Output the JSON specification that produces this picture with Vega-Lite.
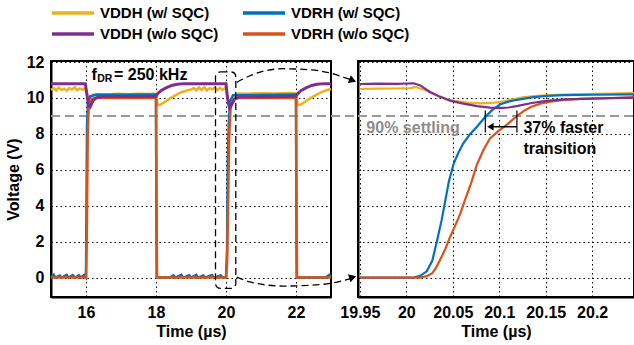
{
  "$schema": "https://vega.github.io/schema/vega-lite/v6.json",
  "padding": {"left": 4, "top": 3, "right": 0, "bottom": 4},
  "bounds": "flush",
  "spacing": 27,
  "datasets": {
    "left": [
      {"s": "VDDH (w/ SQC)", "t": 15.0, "v": 10.45}, {"s": "VDDH (w/ SQC)", "t": 15.08, "v": 10.55}, {"s": "VDDH (w/ SQC)", "t": 15.15, "v": 10.42}, {"s": "VDDH (w/ SQC)", "t": 15.22, "v": 10.58}, {"s": "VDDH (w/ SQC)", "t": 15.3, "v": 10.44}, {"s": "VDDH (w/ SQC)", "t": 15.38, "v": 10.52}, {"s": "VDDH (w/ SQC)", "t": 15.45, "v": 10.4}, {"s": "VDDH (w/ SQC)", "t": 15.52, "v": 10.55}, {"s": "VDDH (w/ SQC)", "t": 15.6, "v": 10.47}, {"s": "VDDH (w/ SQC)", "t": 15.68, "v": 10.6}, {"s": "VDDH (w/ SQC)", "t": 15.75, "v": 10.43}, {"s": "VDDH (w/ SQC)", "t": 15.82, "v": 10.53}, {"s": "VDDH (w/ SQC)", "t": 15.9, "v": 10.46}, {"s": "VDDH (w/ SQC)", "t": 15.97, "v": 10.55}, {"s": "VDDH (w/ SQC)", "t": 16.02, "v": 10.25}, {"s": "VDDH (w/ SQC)", "t": 16.06, "v": 9.95}, {"s": "VDDH (w/ SQC)", "t": 16.12, "v": 10.05}, {"s": "VDDH (w/ SQC)", "t": 16.2, "v": 10.18}, {"s": "VDDH (w/ SQC)", "t": 16.35, "v": 10.22}, {"s": "VDDH (w/ SQC)", "t": 16.6, "v": 10.2}, {"s": "VDDH (w/ SQC)", "t": 16.9, "v": 10.24}, {"s": "VDDH (w/ SQC)", "t": 17.2, "v": 10.21}, {"s": "VDDH (w/ SQC)", "t": 17.5, "v": 10.24}, {"s": "VDDH (w/ SQC)", "t": 17.8, "v": 10.22}, {"s": "VDDH (w/ SQC)", "t": 17.98, "v": 10.23}, {"s": "VDDH (w/ SQC)", "t": 18.02, "v": 9.85}, {"s": "VDDH (w/ SQC)", "t": 18.06, "v": 9.6}, {"s": "VDDH (w/ SQC)", "t": 18.12, "v": 9.62}, {"s": "VDDH (w/ SQC)", "t": 18.25, "v": 9.78}, {"s": "VDDH (w/ SQC)", "t": 18.4, "v": 9.98}, {"s": "VDDH (w/ SQC)", "t": 18.55, "v": 10.15}, {"s": "VDDH (w/ SQC)", "t": 18.7, "v": 10.3}, {"s": "VDDH (w/ SQC)", "t": 18.85, "v": 10.4}, {"s": "VDDH (w/ SQC)", "t": 19.0, "v": 10.47}, {"s": "VDDH (w/ SQC)", "t": 19.08, "v": 10.55}, {"s": "VDDH (w/ SQC)", "t": 19.15, "v": 10.43}, {"s": "VDDH (w/ SQC)", "t": 19.23, "v": 10.58}, {"s": "VDDH (w/ SQC)", "t": 19.3, "v": 10.45}, {"s": "VDDH (w/ SQC)", "t": 19.38, "v": 10.6}, {"s": "VDDH (w/ SQC)", "t": 19.45, "v": 10.42}, {"s": "VDDH (w/ SQC)", "t": 19.53, "v": 10.55}, {"s": "VDDH (w/ SQC)", "t": 19.6, "v": 10.48}, {"s": "VDDH (w/ SQC)", "t": 19.68, "v": 10.58}, {"s": "VDDH (w/ SQC)", "t": 19.75, "v": 10.44}, {"s": "VDDH (w/ SQC)", "t": 19.83, "v": 10.56}, {"s": "VDDH (w/ SQC)", "t": 19.9, "v": 10.45}, {"s": "VDDH (w/ SQC)", "t": 19.97, "v": 10.55}, {"s": "VDDH (w/ SQC)", "t": 20.01, "v": 10.6}, {"s": "VDDH (w/ SQC)", "t": 20.04, "v": 10.1}, {"s": "VDDH (w/ SQC)", "t": 20.08, "v": 9.72}, {"s": "VDDH (w/ SQC)", "t": 20.12, "v": 9.85}, {"s": "VDDH (w/ SQC)", "t": 20.2, "v": 10.1}, {"s": "VDDH (w/ SQC)", "t": 20.35, "v": 10.25}, {"s": "VDDH (w/ SQC)", "t": 20.6, "v": 10.24}, {"s": "VDDH (w/ SQC)", "t": 21.0, "v": 10.27}, {"s": "VDDH (w/ SQC)", "t": 21.4, "v": 10.25}, {"s": "VDDH (w/ SQC)", "t": 21.8, "v": 10.28}, {"s": "VDDH (w/ SQC)", "t": 21.98, "v": 10.27}, {"s": "VDDH (w/ SQC)", "t": 22.02, "v": 9.85}, {"s": "VDDH (w/ SQC)", "t": 22.06, "v": 9.6}, {"s": "VDDH (w/ SQC)", "t": 22.12, "v": 9.62}, {"s": "VDDH (w/ SQC)", "t": 22.25, "v": 9.78}, {"s": "VDDH (w/ SQC)", "t": 22.4, "v": 9.98}, {"s": "VDDH (w/ SQC)", "t": 22.55, "v": 10.15}, {"s": "VDDH (w/ SQC)", "t": 22.7, "v": 10.3}, {"s": "VDDH (w/ SQC)", "t": 22.85, "v": 10.42}, {"s": "VDDH (w/ SQC)", "t": 23.0, "v": 10.5},

      {"s": "VDRH (w/ SQC)", "t": 15.0, "v": 0}, {"s": "VDRH (w/ SQC)", "t": 15.08, "v": 0.15}, {"s": "VDRH (w/ SQC)", "t": 15.12, "v": 0}, {"s": "VDRH (w/ SQC)", "t": 15.25, "v": 0.12}, {"s": "VDRH (w/ SQC)", "t": 15.3, "v": 0}, {"s": "VDRH (w/ SQC)", "t": 15.45, "v": 0.15}, {"s": "VDRH (w/ SQC)", "t": 15.5, "v": 0}, {"s": "VDRH (w/ SQC)", "t": 15.62, "v": 0.14}, {"s": "VDRH (w/ SQC)", "t": 15.68, "v": 0}, {"s": "VDRH (w/ SQC)", "t": 15.8, "v": 0.12}, {"s": "VDRH (w/ SQC)", "t": 15.85, "v": 0}, {"s": "VDRH (w/ SQC)", "t": 15.95, "v": 0.15}, {"s": "VDRH (w/ SQC)", "t": 16.0, "v": 0.02}, {"s": "VDRH (w/ SQC)", "t": 16.01, "v": 3}, {"s": "VDRH (w/ SQC)", "t": 16.03, "v": 8.5}, {"s": "VDRH (w/ SQC)", "t": 16.06, "v": 9.8}, {"s": "VDRH (w/ SQC)", "t": 16.12, "v": 10.1}, {"s": "VDRH (w/ SQC)", "t": 16.3, "v": 10.18}, {"s": "VDRH (w/ SQC)", "t": 18.0, "v": 10.2}, {"s": "VDRH (w/ SQC)", "t": 18.01, "v": 4}, {"s": "VDRH (w/ SQC)", "t": 18.02, "v": 0}, {"s": "VDRH (w/ SQC)", "t": 18.4, "v": 0}, {"s": "VDRH (w/ SQC)", "t": 18.5, "v": 0.12}, {"s": "VDRH (w/ SQC)", "t": 18.55, "v": 0}, {"s": "VDRH (w/ SQC)", "t": 18.72, "v": 0.15}, {"s": "VDRH (w/ SQC)", "t": 18.78, "v": 0}, {"s": "VDRH (w/ SQC)", "t": 18.95, "v": 0.13}, {"s": "VDRH (w/ SQC)", "t": 19.0, "v": 0}, {"s": "VDRH (w/ SQC)", "t": 19.15, "v": 0.15}, {"s": "VDRH (w/ SQC)", "t": 19.2, "v": 0}, {"s": "VDRH (w/ SQC)", "t": 19.35, "v": 0.12}, {"s": "VDRH (w/ SQC)", "t": 19.4, "v": 0}, {"s": "VDRH (w/ SQC)", "t": 19.6, "v": 0.14}, {"s": "VDRH (w/ SQC)", "t": 19.65, "v": 0}, {"s": "VDRH (w/ SQC)", "t": 19.85, "v": 0.12}, {"s": "VDRH (w/ SQC)", "t": 19.9, "v": 0}, {"s": "VDRH (w/ SQC)", "t": 20.0, "v": 0}, {"s": "VDRH (w/ SQC)", "t": 20.03, "v": 1.5}, {"s": "VDRH (w/ SQC)", "t": 20.05, "v": 6.3}, {"s": "VDRH (w/ SQC)", "t": 20.08, "v": 8.6}, {"s": "VDRH (w/ SQC)", "t": 20.12, "v": 9.8}, {"s": "VDRH (w/ SQC)", "t": 20.2, "v": 10.15}, {"s": "VDRH (w/ SQC)", "t": 22.0, "v": 10.2}, {"s": "VDRH (w/ SQC)", "t": 22.01, "v": 4}, {"s": "VDRH (w/ SQC)", "t": 22.02, "v": 0}, {"s": "VDRH (w/ SQC)", "t": 22.85, "v": 0}, {"s": "VDRH (w/ SQC)", "t": 22.95, "v": 0.15}, {"s": "VDRH (w/ SQC)", "t": 23.0, "v": 0.05},

      {"s": "VDRH (w/o SQC)", "t": 15.0, "v": 0}, {"s": "VDRH (w/o SQC)", "t": 16.0, "v": 0}, {"s": "VDRH (w/o SQC)", "t": 16.02, "v": 2}, {"s": "VDRH (w/o SQC)", "t": 16.05, "v": 8}, {"s": "VDRH (w/o SQC)", "t": 16.08, "v": 9.6}, {"s": "VDRH (w/o SQC)", "t": 16.15, "v": 9.95}, {"s": "VDRH (w/o SQC)", "t": 16.3, "v": 10.0}, {"s": "VDRH (w/o SQC)", "t": 18.0, "v": 10.02}, {"s": "VDRH (w/o SQC)", "t": 18.01, "v": 5}, {"s": "VDRH (w/o SQC)", "t": 18.03, "v": 0}, {"s": "VDRH (w/o SQC)", "t": 20.0, "v": 0}, {"s": "VDRH (w/o SQC)", "t": 20.03, "v": 0.8}, {"s": "VDRH (w/o SQC)", "t": 20.06, "v": 4}, {"s": "VDRH (w/o SQC)", "t": 20.09, "v": 7.8}, {"s": "VDRH (w/o SQC)", "t": 20.13, "v": 9.4}, {"s": "VDRH (w/o SQC)", "t": 20.2, "v": 9.9}, {"s": "VDRH (w/o SQC)", "t": 20.3, "v": 10.0}, {"s": "VDRH (w/o SQC)", "t": 22.0, "v": 10.02}, {"s": "VDRH (w/o SQC)", "t": 22.01, "v": 5}, {"s": "VDRH (w/o SQC)", "t": 22.03, "v": 0}, {"s": "VDRH (w/o SQC)", "t": 23.0, "v": 0},

      {"s": "VDDH (w/o SQC)", "t": 15.0, "v": 10.8}, {"s": "VDDH (w/o SQC)", "t": 15.98, "v": 10.8}, {"s": "VDDH (w/o SQC)", "t": 16.02, "v": 10.3}, {"s": "VDDH (w/o SQC)", "t": 16.07, "v": 9.6}, {"s": "VDDH (w/o SQC)", "t": 16.12, "v": 9.5}, {"s": "VDDH (w/o SQC)", "t": 16.2, "v": 9.85}, {"s": "VDDH (w/o SQC)", "t": 16.3, "v": 10.02}, {"s": "VDDH (w/o SQC)", "t": 16.5, "v": 10.08}, {"s": "VDDH (w/o SQC)", "t": 18.0, "v": 10.1}, {"s": "VDDH (w/o SQC)", "t": 18.05, "v": 10.25}, {"s": "VDDH (w/o SQC)", "t": 18.15, "v": 10.42}, {"s": "VDDH (w/o SQC)", "t": 18.3, "v": 10.58}, {"s": "VDDH (w/o SQC)", "t": 18.45, "v": 10.7}, {"s": "VDDH (w/o SQC)", "t": 18.6, "v": 10.76}, {"s": "VDDH (w/o SQC)", "t": 18.8, "v": 10.8}, {"s": "VDDH (w/o SQC)", "t": 20.0, "v": 10.8}, {"s": "VDDH (w/o SQC)", "t": 20.03, "v": 10.2}, {"s": "VDDH (w/o SQC)", "t": 20.06, "v": 9.8}, {"s": "VDDH (w/o SQC)", "t": 20.1, "v": 9.45}, {"s": "VDDH (w/o SQC)", "t": 20.15, "v": 9.6}, {"s": "VDDH (w/o SQC)", "t": 20.25, "v": 9.95}, {"s": "VDDH (w/o SQC)", "t": 20.4, "v": 10.05}, {"s": "VDDH (w/o SQC)", "t": 22.0, "v": 10.1}, {"s": "VDDH (w/o SQC)", "t": 22.05, "v": 10.25}, {"s": "VDDH (w/o SQC)", "t": 22.15, "v": 10.42}, {"s": "VDDH (w/o SQC)", "t": 22.3, "v": 10.58}, {"s": "VDDH (w/o SQC)", "t": 22.45, "v": 10.7}, {"s": "VDDH (w/o SQC)", "t": 22.6, "v": 10.76}, {"s": "VDDH (w/o SQC)", "t": 22.8, "v": 10.8}, {"s": "VDDH (w/o SQC)", "t": 23.0, "v": 10.8}
    ],
    "right": [
      {"s": "VDDH (w/ SQC)", "t": 19.95, "v": 10.5}, {"s": "VDDH (w/ SQC)", "t": 19.97, "v": 10.52}, {"s": "VDDH (w/ SQC)", "t": 19.99, "v": 10.53}, {"s": "VDDH (w/ SQC)", "t": 20.005, "v": 10.55}, {"s": "VDDH (w/ SQC)", "t": 20.01, "v": 10.62}, {"s": "VDDH (w/ SQC)", "t": 20.02, "v": 10.45}, {"s": "VDDH (w/ SQC)", "t": 20.035, "v": 10.1}, {"s": "VDDH (w/ SQC)", "t": 20.05, "v": 9.85}, {"s": "VDDH (w/ SQC)", "t": 20.065, "v": 9.74}, {"s": "VDDH (w/ SQC)", "t": 20.08, "v": 9.7}, {"s": "VDDH (w/ SQC)", "t": 20.095, "v": 9.74}, {"s": "VDDH (w/ SQC)", "t": 20.105, "v": 9.82}, {"s": "VDDH (w/ SQC)", "t": 20.115, "v": 9.93}, {"s": "VDDH (w/ SQC)", "t": 20.125, "v": 10.03}, {"s": "VDDH (w/ SQC)", "t": 20.14, "v": 10.12}, {"s": "VDDH (w/ SQC)", "t": 20.16, "v": 10.18}, {"s": "VDDH (w/ SQC)", "t": 20.19, "v": 10.22}, {"s": "VDDH (w/ SQC)", "t": 20.22, "v": 10.25}, {"s": "VDDH (w/ SQC)", "t": 20.245, "v": 10.27},

      {"s": "VDRH (w/ SQC)", "t": 19.95, "v": 0}, {"s": "VDRH (w/ SQC)", "t": 20.008, "v": 0}, {"s": "VDRH (w/ SQC)", "t": 20.015, "v": 0.1}, {"s": "VDRH (w/ SQC)", "t": 20.022, "v": 0.35}, {"s": "VDRH (w/ SQC)", "t": 20.028, "v": 0.95}, {"s": "VDRH (w/ SQC)", "t": 20.033, "v": 2.05}, {"s": "VDRH (w/ SQC)", "t": 20.038, "v": 3.2}, {"s": "VDRH (w/ SQC)", "t": 20.042, "v": 4.3}, {"s": "VDRH (w/ SQC)", "t": 20.046, "v": 5.4}, {"s": "VDRH (w/ SQC)", "t": 20.051, "v": 6.35}, {"s": "VDRH (w/ SQC)", "t": 20.056, "v": 6.95}, {"s": "VDRH (w/ SQC)", "t": 20.061, "v": 7.45}, {"s": "VDRH (w/ SQC)", "t": 20.068, "v": 7.95}, {"s": "VDRH (w/ SQC)", "t": 20.076, "v": 8.4}, {"s": "VDRH (w/ SQC)", "t": 20.085, "v": 8.95}, {"s": "VDRH (w/ SQC)", "t": 20.093, "v": 9.35}, {"s": "VDRH (w/ SQC)", "t": 20.101, "v": 9.65}, {"s": "VDRH (w/ SQC)", "t": 20.11, "v": 9.8}, {"s": "VDRH (w/ SQC)", "t": 20.119, "v": 9.9}, {"s": "VDRH (w/ SQC)", "t": 20.135, "v": 10.03}, {"s": "VDRH (w/ SQC)", "t": 20.151, "v": 10.12}, {"s": "VDRH (w/ SQC)", "t": 20.17, "v": 10.16}, {"s": "VDRH (w/ SQC)", "t": 20.2, "v": 10.18}, {"s": "VDRH (w/ SQC)", "t": 20.245, "v": 10.2},

      {"s": "VDRH (w/o SQC)", "t": 19.95, "v": 0}, {"s": "VDRH (w/o SQC)", "t": 20.015, "v": 0}, {"s": "VDRH (w/o SQC)", "t": 20.022, "v": 0.08}, {"s": "VDRH (w/o SQC)", "t": 20.028, "v": 0.25}, {"s": "VDRH (w/o SQC)", "t": 20.032, "v": 0.55}, {"s": "VDRH (w/o SQC)", "t": 20.036, "v": 0.95}, {"s": "VDRH (w/o SQC)", "t": 20.042, "v": 1.6}, {"s": "VDRH (w/o SQC)", "t": 20.047, "v": 2.25}, {"s": "VDRH (w/o SQC)", "t": 20.053, "v": 2.95}, {"s": "VDRH (w/o SQC)", "t": 20.058, "v": 3.55}, {"s": "VDRH (w/o SQC)", "t": 20.063, "v": 4.3}, {"s": "VDRH (w/o SQC)", "t": 20.07, "v": 5.3}, {"s": "VDRH (w/o SQC)", "t": 20.076, "v": 6.3}, {"s": "VDRH (w/o SQC)", "t": 20.083, "v": 7.1}, {"s": "VDRH (w/o SQC)", "t": 20.09, "v": 7.75}, {"s": "VDRH (w/o SQC)", "t": 20.1, "v": 8.2}, {"s": "VDRH (w/o SQC)", "t": 20.108, "v": 8.5}, {"s": "VDRH (w/o SQC)", "t": 20.119, "v": 9.0}, {"s": "VDRH (w/o SQC)", "t": 20.127, "v": 9.3}, {"s": "VDRH (w/o SQC)", "t": 20.134, "v": 9.5}, {"s": "VDRH (w/o SQC)", "t": 20.145, "v": 9.7}, {"s": "VDRH (w/o SQC)", "t": 20.155, "v": 9.8}, {"s": "VDRH (w/o SQC)", "t": 20.17, "v": 9.9}, {"s": "VDRH (w/o SQC)", "t": 20.187, "v": 9.95}, {"s": "VDRH (w/o SQC)", "t": 20.22, "v": 10.0}, {"s": "VDRH (w/o SQC)", "t": 20.245, "v": 10.03},

      {"s": "VDDH (w/o SQC)", "t": 19.95, "v": 10.78}, {"s": "VDDH (w/o SQC)", "t": 19.97, "v": 10.8}, {"s": "VDDH (w/o SQC)", "t": 19.99, "v": 10.79}, {"s": "VDDH (w/o SQC)", "t": 20.008, "v": 10.82}, {"s": "VDDH (w/o SQC)", "t": 20.015, "v": 10.7}, {"s": "VDDH (w/o SQC)", "t": 20.025, "v": 10.35}, {"s": "VDDH (w/o SQC)", "t": 20.035, "v": 10.1}, {"s": "VDDH (w/o SQC)", "t": 20.047, "v": 9.85}, {"s": "VDDH (w/o SQC)", "t": 20.06, "v": 9.7}, {"s": "VDDH (w/o SQC)", "t": 20.076, "v": 9.55}, {"s": "VDDH (w/o SQC)", "t": 20.09, "v": 9.46}, {"s": "VDDH (w/o SQC)", "t": 20.1, "v": 9.44}, {"s": "VDDH (w/o SQC)", "t": 20.11, "v": 9.47}, {"s": "VDDH (w/o SQC)", "t": 20.12, "v": 9.56}, {"s": "VDDH (w/o SQC)", "t": 20.135, "v": 9.72}, {"s": "VDDH (w/o SQC)", "t": 20.15, "v": 9.84}, {"s": "VDDH (w/o SQC)", "t": 20.17, "v": 9.92}, {"s": "VDDH (w/o SQC)", "t": 20.2, "v": 9.97}, {"s": "VDDH (w/o SQC)", "t": 20.245, "v": 10.02}
    ]
  },
  "hconcat": [
    {
      "width": 280,
      "height": 236,
      "data": {"name": "left"},
      "encoding": {
        "x": {"field": "t", "type": "quantitative", "scale": {"domain": [15, 23], "nice": false, "zero": false}, "axis": {"values": [16, 18, 20, 22], "title": "Time (µs)"}},
        "y": {"field": "v", "type": "quantitative", "scale": {"domain": [-1.08, 12.06], "nice": false, "zero": false}, "axis": {"values": [0, 2, 4, 6, 8, 10, 12], "title": "Voltage (V)"}}
      },
      "layer": [
        {"data": {"values": [{"t": 15, "t2": 23.77, "v": 9}]}, "mark": {"type": "rule", "color": "#9a9a9a", "strokeDash": [9, 5], "strokeWidth": 2, "clip": false}, "encoding": {"x2": {"field": "t2"}}},
        {"transform": [{"filter": "datum.s === 'VDDH (w/ SQC)'"}], "mark": {"type": "line", "strokeWidth": 2.5}, "encoding": {"color": {"field": "s", "type": "nominal", "title": null, "scale": {"domain": ["VDDH (w/ SQC)", "VDRH (w/ SQC)", "VDDH (w/o SQC)", "VDRH (w/o SQC)"], "range": ["#EDB120", "#0072BD", "#7E2F8E", "#D95319"]}}}},
        {"transform": [{"filter": "datum.s === 'VDRH (w/ SQC)'"}], "mark": {"type": "line", "strokeWidth": 2.5}, "encoding": {"color": {"field": "s", "type": "nominal", "title": null}}},
        {"transform": [{"filter": "datum.s === 'VDRH (w/o SQC)'"}], "mark": {"type": "line", "strokeWidth": 2.5}, "encoding": {"color": {"field": "s", "type": "nominal", "title": null}}},
        {"transform": [{"filter": "datum.s === 'VDDH (w/o SQC)'"}], "mark": {"type": "line", "strokeWidth": 3}, "encoding": {"color": {"field": "s", "type": "nominal", "title": null}}},
        {"data": {"values": [{"t": 19.7, "t2": 20.28, "v": -0.6, "v2": 11.45}]}, "mark": {"type": "rect", "fill": "transparent", "stroke": "black", "strokeDash": [7, 4], "strokeWidth": 1.3, "cornerRadius": 5}, "encoding": {"x2": {"field": "t2"}, "y2": {"field": "v2"}}},
        {"data": {"values": [
          {"c": "top", "t": 20.306, "v": 10.87}, {"c": "top", "t": 20.686, "v": 11.24}, {"c": "top", "t": 21.629, "v": 11.63}, {"c": "top", "t": 22.4, "v": 11.57}, {"c": "top", "t": 23.057, "v": 11.35}, {"c": "top", "t": 23.457, "v": 11.09}, {"c": "top", "t": 23.6, "v": 11.0},
          {"c": "bot", "t": 20.306, "v": 0.03}, {"c": "bot", "t": 20.686, "v": -0.24}, {"c": "bot", "t": 21.629, "v": -0.47}, {"c": "bot", "t": 22.4, "v": -0.43}, {"c": "bot", "t": 23.257, "v": -0.21}, {"c": "bot", "t": 23.6, "v": -0.02}
        ]}, "mark": {"type": "line", "color": "black", "strokeDash": [7, 4], "strokeWidth": 1.3, "clip": false, "interpolate": "monotone"}, "encoding": {"detail": {"field": "c"}}},
        {"data": {"values": [{"t": 23.62, "v": 10.98, "a": 22}, {"t": 23.62, "v": 0.02, "a": -17}]}, "mark": {"type": "point", "shape": "triangle-right", "filled": true, "color": "black", "opacity": 1, "size": 70, "clip": false}, "encoding": {"angle": {"field": "a", "type": "quantitative", "scale": null}}},
        {"data": {"values": [{"t": 16.16, "v": 11.3, "txt": "f"}]}, "mark": {"type": "text", "align": "left", "baseline": "middle", "fontSize": 16, "fontWeight": "bold", "color": "black"}, "encoding": {"text": {"field": "txt"}}},
        {"data": {"values": [{"t": 16.32, "v": 11.08, "txt": "DR"}]}, "mark": {"type": "text", "align": "left", "baseline": "middle", "fontSize": 10.5, "fontWeight": "bold", "color": "black"}, "encoding": {"text": {"field": "txt"}}},
        {"data": {"values": [{"t": 16.8, "v": 11.3, "txt": "= 250 kHz"}]}, "mark": {"type": "text", "align": "left", "baseline": "middle", "fontSize": 16, "fontWeight": "bold", "color": "black"}, "encoding": {"text": {"field": "txt"}}}
      ]
    },
    {
      "width": 276,
      "height": 236,
      "data": {"name": "right"},
      "encoding": {
        "x": {"field": "t", "type": "quantitative", "scale": {"domain": [19.948, 20.245], "nice": false, "zero": false}, "axis": {"values": [19.95, 20, 20.05, 20.1, 20.15, 20.2], "format": "~g", "title": "Time (µs)"}},
        "y": {"field": "v", "type": "quantitative", "scale": {"domain": [-1.08, 12.06], "nice": false, "zero": false}, "axis": {"values": [0, 2, 4, 6, 8, 10, 12], "labels": false, "title": null}}
      },
      "layer": [
        {"data": {"values": [{"t": 19.948, "t2": 20.245, "v": 9}]}, "mark": {"type": "rule", "color": "#9a9a9a", "strokeDash": [9, 5], "strokeWidth": 2}, "encoding": {"x2": {"field": "t2"}}},
        {"transform": [{"filter": "datum.s === 'VDDH (w/ SQC)'"}], "mark": {"type": "line", "strokeWidth": 2.2}, "encoding": {"color": {"field": "s", "type": "nominal", "title": null}}},
        {"transform": [{"filter": "datum.s === 'VDRH (w/ SQC)'"}], "mark": {"type": "line", "strokeWidth": 2.2}, "encoding": {"color": {"field": "s", "type": "nominal", "title": null}}},
        {"transform": [{"filter": "datum.s === 'VDRH (w/o SQC)'"}], "mark": {"type": "line", "strokeWidth": 2.2}, "encoding": {"color": {"field": "s", "type": "nominal", "title": null}}},
        {"transform": [{"filter": "datum.s === 'VDDH (w/o SQC)'"}], "mark": {"type": "line", "strokeWidth": 2.2}, "encoding": {"color": {"field": "s", "type": "nominal", "title": null}}},
        {"data": {"values": [{"t": 20.085, "v": 8.08, "v2": 9.3}, {"t": 20.119, "v": 8.08, "v2": 9.3}]}, "mark": {"type": "rule", "color": "black", "strokeWidth": 1.2}, "encoding": {"y2": {"field": "v2"}}},
        {"data": {"values": [{"t": 20.119, "t2": 20.092, "v": 8.4}]}, "mark": {"type": "rule", "color": "black", "strokeWidth": 1.5}, "encoding": {"x2": {"field": "t2"}}},
        {"data": {"values": [{"t": 20.0905, "v": 8.4}]}, "mark": {"type": "point", "shape": "triangle-left", "filled": true, "color": "black", "opacity": 1, "size": 55}},
        {"data": {"values": [{"t": 19.957, "v": 8.33, "txt": "90% settling"}]}, "mark": {"type": "text", "align": "left", "baseline": "middle", "fontSize": 16, "fontWeight": "bold", "color": "#8c8c8c"}, "encoding": {"text": {"field": "txt"}}},
        {"data": {"values": [{"t": 20.126, "v": 8.33, "txt": "37% faster"}, {"t": 20.126, "v": 7.17, "txt": "transition"}]}, "mark": {"type": "text", "align": "left", "baseline": "middle", "fontSize": 16, "fontWeight": "bold", "color": "black"}, "encoding": {"text": {"field": "txt"}}}
      ]
    }
  ],
  "config": {
    "font": "Liberation Sans",
    "view": {"stroke": "black", "strokeWidth": 2},
    "axis": {"domainColor": "black", "domainWidth": 2, "gridColor": "black", "gridDash": [1.5, 3], "gridWidth": 1, "gridOpacity": 1, "ticks": false, "labelFont": "Liberation Sans", "labelFontSize": 16, "labelFontWeight": "bold", "labelColor": "black", "titleFont": "Liberation Sans", "titleFontSize": 16, "titleFontWeight": "bold", "titleColor": "black"},
    "axisX": {"labelPadding": 7, "titlePadding": 3},
    "axisY": {"labelPadding": 7, "titlePadding": 5},
    "legend": {"orient": "none", "direction": "horizontal", "legendX": -1, "legendY": -58, "columns": 2, "symbolType": "stroke", "symbolSize": 1764, "symbolStrokeWidth": 3.5, "clipHeight": 20, "labelFont": "Liberation Sans", "labelFontSize": 15, "labelFontWeight": "bold", "labelColor": "black", "labelOffset": 4, "columnPadding": 22, "rowPadding": 1, "labelLimit": 300}
  }
}
